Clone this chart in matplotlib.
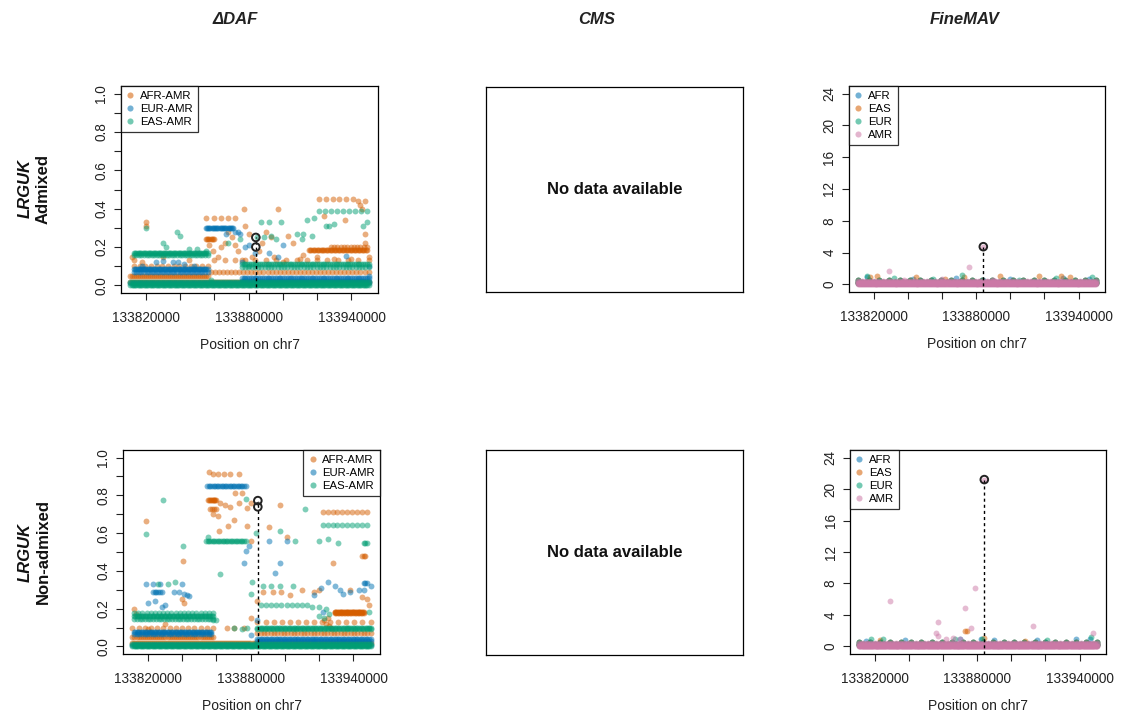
import numpy as np
import matplotlib
matplotlib.use('Agg')
import matplotlib.pyplot as plt
from matplotlib.lines import Line2D

plt.rcParams['font.family'] = ['Liberation Sans', 'DejaVu Sans']

# ---- data (positions in kb on chr7) ----
# runs of SNPs sharing a value: (start_kb, end_kb, value, n_snps)
top_snp_kb = 133884.2

# delta DAF, admixed
adm_afr_runs = [(133811, 133950, 0.02, 120), (133811, 133856, 0.05, 40), (133813, 133856, 0.10, 14),
                (133855, 133860, 0.24, 8), (133915, 133949, 0.185, 45), (133928, 133949, 0.20, 12),
                (133858, 133950, 0.07, 40), (133860, 133950, 0.13, 16)]
adm_afr_x = [133812, 133813, 133820, 133820, 133818, 133830, 133845, 133855, 133860, 133864, 133868, 133872,
             133857, 133859, 133862, 133864, 133866, 133868, 133870, 133872, 133874, 133877, 133878, 133880,
             133876, 133882, 133886, 133888, 133890, 133893, 133897, 133895, 133900, 133903, 133906, 133910,
             133912, 133921, 133925, 133929, 133933, 133937, 133941, 133944, 133948, 133945, 133946, 133924,
             133936, 133948, 133948, 133920, 133930, 133940, 133950]
adm_afr_y = [0.15, 0.13, 0.33, 0.31, 0.12, 0.15, 0.13, 0.35, 0.35, 0.35, 0.35, 0.35,
             0.21, 0.18, 0.15, 0.20, 0.22, 0.28, 0.25, 0.21, 0.18, 0.40, 0.31, 0.27,
             0.13, 0.15, 0.18, 0.22, 0.28, 0.25, 0.40, 0.15, 0.12, 0.26, 0.22, 0.14,
             0.16, 0.45, 0.45, 0.45, 0.45, 0.45, 0.45, 0.44, 0.44, 0.42, 0.40, 0.36,
             0.34, 0.27, 0.22, 0.15, 0.14, 0.14, 0.15]

adm_eur_runs = [(133811, 133950, 0.01, 100), (133813, 133856, 0.083, 60), (133813, 133856, 0.07, 30),
                (133855, 133871, 0.30, 25), (133876, 133950, 0.04, 70), (133876, 133950, 0.025, 50)]
adm_eur_x = [133826, 133830, 133836, 133839, 133842, 133818, 133848, 133872, 133874, 133875, 133878, 133880,
             133876, 133884, 133892, 133897, 133900, 133937, 133950, 133950, 133867]
adm_eur_y = [0.12, 0.125, 0.12, 0.12, 0.11, 0.10, 0.10, 0.28, 0.28, 0.27, 0.20, 0.21,
             0.12, 0.17, 0.17, 0.15, 0.21, 0.155, 0.10, 0.05, 0.27]

adm_eas_runs = [(133811, 133950, 0.0, 200), (133811, 133950, 0.015, 120), (133813, 133856, 0.17, 60),
                (133813, 133856, 0.16, 30), (133876, 133950, 0.11, 70), (133876, 133950, 0.095, 40),
                (133921, 133949, 0.39, 9)]
adm_eas_x = [133820, 133838, 133840, 133830, 133832, 133845, 133850, 133855, 133868, 133875, 133887, 133892,
             133899, 133885, 133889, 133893, 133896, 133908, 133912, 133917, 133914, 133918, 133925, 133927,
             133930, 133947, 133949, 133911, 133880, 133858]
adm_eas_y = [0.30, 0.28, 0.26, 0.22, 0.20, 0.19, 0.19, 0.18, 0.22, 0.24, 0.33, 0.33,
             0.33, 0.25, 0.25, 0.26, 0.24, 0.27, 0.27, 0.26, 0.34, 0.35, 0.31, 0.31,
             0.32, 0.31, 0.33, 0.24, 0.10, 0.03]
adm_top_y = [0.25, 0.20]

# delta DAF, non-admixed
na_afr_runs = [(133811, 133950, 0.02, 120), (133811, 133858, 0.05, 40), (133811, 133858, 0.10, 14),
               (133855, 133860, 0.775, 10), (133856, 133860, 0.73, 4), (133929, 133946, 0.185, 35),
               (133929, 133946, 0.175, 20), (133922, 133948, 0.71, 10), (133884, 133950, 0.07, 35),
               (133884, 133950, 0.13, 15), (133945, 133947, 0.48, 3)]
na_afr_x = [133812, 133813, 133819, 133840.6, 133840, 133841, 133830, 133820, 133855.7, 133858, 133861,
            133864.5, 133868, 133873, 133858, 133861, 133862, 133865, 133868, 133871, 133875, 133873,
            133861.6, 133866.5, 133870, 133878, 133880, 133878, 133880, 133897, 133891, 133901, 133928,
            133924, 133925, 133926, 133927, 133923, 133948, 133949, 133887, 133893, 133898, 133903, 133910,
            133917, 133920, 133884, 133880, 133876, 133870, 133866, 133938, 133945]
na_afr_y = [0.20, 0.17, 0.663, 0.45, 0.25, 0.23, 0.12, 0.09, 0.922, 0.915, 0.915,
            0.915, 0.915, 0.915, 0.70, 0.69, 0.76, 0.75, 0.74, 0.81, 0.81, 0.76,
            0.61, 0.64, 0.67, 0.64, 0.557, 0.735, 0.76, 0.751, 0.634, 0.58, 0.44,
            0.12, 0.15, 0.11, 0.10, 0.14, 0.25, 0.22, 0.29, 0.29, 0.29, 0.27, 0.30,
            0.29, 0.30, 0.24, 0.15, 0.10, 0.10, 0.10, 0.30, 0.26]

na_eur_runs = [(133811, 133950, 0.01, 100), (133812, 133857, 0.075, 60), (133812, 133857, 0.065, 30),
               (133854.6, 133877, 0.852, 25), (133884, 133950, 0.04, 70), (133884, 133950, 0.03, 40),
               (133823, 133828, 0.29, 6), (133946, 133948, 0.335, 3)]
na_eur_x = [133819, 133823, 133827, 133840, 133820, 133824, 133828, 133830, 133835, 133838, 133841, 133843,
            133844, 133877, 133876, 133879, 133890.7, 133901, 133897, 133894, 133917, 133921, 133925, 133929,
            133932, 133934, 133938, 133943, 133946, 133950, 133884, 133880, 133922]
na_eur_y = [0.33, 0.33, 0.33, 0.33, 0.23, 0.24, 0.21, 0.22, 0.29, 0.29, 0.28, 0.27,
            0.265, 0.507, 0.44, 0.53, 0.557, 0.557, 0.44, 0.39, 0.27, 0.31, 0.34, 0.32,
            0.30, 0.28, 0.29, 0.30, 0.30, 0.32, 0.14, 0.06, 0.18]

na_eas_runs = [(133811, 133950, 0.0, 200), (133811, 133950, 0.015, 120), (133812, 133858, 0.16, 60),
               (133812, 133858, 0.145, 30), (133812, 133858, 0.175, 20), (133854, 133877, 0.56, 25),
               (133922, 133948, 0.645, 10), (133884, 133950, 0.10, 70), (133884, 133950, 0.09, 30),
               (133886, 133913, 0.22, 10), (133946, 133948, 0.55, 3)]
na_eas_x = [133829, 133819, 133840.6, 133826, 133832, 133836, 133855, 133862, 133877, 133883, 133881, 133880,
            133897, 133906, 133912, 133920, 133925, 133931, 133887, 133892, 133897, 133905, 133916, 133920,
            133924, 133920, 133923, 133926, 133858, 133860, 133870, 133875, 133878, 133949, 133949, 133936]
na_eas_y = [0.774, 0.593, 0.53, 0.33, 0.33, 0.34, 0.58, 0.386, 0.778, 0.60, 0.34, 0.28,
            0.61, 0.56, 0.73, 0.56, 0.57, 0.55, 0.32, 0.32, 0.32, 0.32, 0.21, 0.21,
            0.20, 0.16, 0.15, 0.17, 0.14, 0.14, 0.10, 0.09, 0.10, 0.18, 0.10, 0.10]
na_top_y = [0.772, 0.739]

# FineMAV
fm_base_runs = [(133811, 133950, 0.15, 110), (133811, 133950, 0.35, 60), (133811, 133950, 0.55, 24)]
fm_amr_runs = [(133811, 133950, 0.0, 250), (133811, 133950, 0.12, 220), (133811, 133950, 0.25, 160),
               (133811, 133950, 0.38, 60)]

fm_adm_afr_x = [133816, 133843, 133868, 133884, 133900, 133931, 133946]
fm_adm_afr_y = [0.9, 0.7, 0.8, 0.6, 0.7, 0.8, 0.7]
fm_adm_eas_x = [133818, 133822, 133845, 133862, 133873, 133894, 133917, 133930, 133935]
fm_adm_eas_y = [0.9, 1.0, 0.9, 0.7, 0.9, 1.1, 1.0, 1.0, 0.9]
fm_adm_eur_x = [133816, 133832, 133855, 133872, 133905, 133927, 133948]
fm_adm_eur_y = [1.1, 0.8, 0.7, 1.2, 0.6, 0.8, 0.9]
fm_adm_amr_x = [133828.7, 133876, 133884.2, 133838, 133860, 133890]
fm_adm_amr_y = [1.7, 2.2, 4.74, 0.6, 0.7, 0.6]
fm_adm_top = 4.74

fm_na_afr_x = [133815, 133838, 133870, 133882, 133890, 133915, 133938, 133946]
fm_na_afr_y = [0.7, 0.8, 0.9, 0.9, 0.8, 0.8, 0.9, 1.0]
fm_na_eas_x = [133874, 133884.2, 133873, 133823, 133908]
fm_na_eas_y = [2.0, 1.1, 1.9, 0.8, 0.7]
fm_na_eur_x = [133818, 133825, 133867, 133883, 133947, 133921]
fm_na_eur_y = [1.0, 0.9, 1.0, 0.9, 1.2, 0.8]
fm_na_amr_x = [133828.7, 133879, 133873, 133857, 133876.6, 133912.5, 133947.7, 133855.7, 133857, 133862,
               133866, 133870, 133884.2]
fm_na_amr_y = [5.8, 7.4, 4.86, 3.1, 2.37, 2.6, 1.75, 1.7, 1.3, 1.0, 1.1, 0.9, 21.2]
fm_na_top = 21.2

daf_labels = ['AFR-AMR', 'EUR-AMR', 'EAS-AMR']
daf_colors = ['#D55E00', '#0072B2', '#009E73']
fm_labels = ['AFR', 'EAS', 'EUR', 'AMR']
fm_colors = ['#0072B2', '#D55E00', '#009E73', '#CC79A7']
col_titles = ['ΔDAF', 'CMS', 'FineMAV']
row_names = ['Admixed', 'Non-admixed']
gene = 'LRGUK'

x_ticks = np.arange(133820000, 133940001, 20000)
x_labeled = [133820000, 133880000, 133940000]


def expand(runs, px, py):
    xs, ys = [], []
    for x0, x1, v, n in runs:
        xs += list(np.linspace(x0, x1, n))
        ys += [v] * n
    xs += list(px)
    ys += list(py)
    return np.array(xs) * 1000, np.array(ys)


W, H = 1123, 718
fig = plt.figure(figsize=(W / 100, H / 100), dpi=100)


def add_ax(l, t, r, b):
    return fig.add_axes([l / W, 1 - b / H, (r - l) / W, (b - t) / H])


def style_axes(ax):
    for s in ax.spines.values():
        s.set_linewidth(0.9)
    ax.tick_params(direction='out', length=5, width=0.8, labelsize=9.8, colors='#222222')
    ax.tick_params(axis='x', pad=8)
    ax.tick_params(axis='y', pad=4)
    ax.set_xlim(133805500, 133955500)
    ax.set_xticks(x_ticks)
    ax.set_xticklabels([str(t) if t in x_labeled else '' for t in x_ticks])
    ax.set_xlabel('Position on chr7', fontsize=10, labelpad=9, color='#222222')


def rot_yticks(ax):
    for lab in ax.get_yticklabels():
        lab.set_rotation(90)
        lab.set_va('center')


def legend(ax, labels, colors, loc):
    handles = [Line2D([], [], ls='none', marker='o', ms=4.4, mew=0, color=c, alpha=0.55) for c in colors]
    lg = ax.legend(handles, labels, loc=loc, fontsize=8.2, frameon=True, fancybox=False,
                   borderaxespad=0, handlelength=0.7, handletextpad=0.5, labelspacing=0.25,
                   borderpad=0.45)
    lg.get_frame().set_edgecolor('black')
    lg.get_frame().set_linewidth(0.9)


def daf_panel(ax, series, tops, loc):
    for (runs, px, py), c in zip(series, daf_colors):
        x, y = expand(runs, px, py)
        ax.scatter(x, y, s=18, color=c, alpha=0.5, linewidths=0, zorder=2)
    ax.set_ylim(-0.04, 1.04)
    ax.plot([top_snp_kb * 1000] * 2, [-0.04, max(tops)], ls=(0, (2.2, 2.2)), color='black', lw=1, zorder=3)
    ax.scatter([top_snp_kb * 1000] * len(tops), tops, s=30, facecolors='none', edgecolors='#222222',
               linewidths=1.4, zorder=4)
    yt = np.round(np.arange(0, 1.01, 0.1), 1)
    ax.set_yticks(yt)
    ax.set_yticklabels(['%.1f' % v if i % 2 == 0 else '' for i, v in enumerate(yt)])
    style_axes(ax)
    rot_yticks(ax)
    legend(ax, daf_labels, daf_colors, loc)


def fm_panel(ax, series, top):
    for i, ((px, py), c) in enumerate(zip(series, fm_colors)):
        runs = fm_amr_runs if i == 3 else fm_base_runs
        x, y = expand(runs, px, py)
        ax.scatter(x, y, s=18, color=c, alpha=0.5, linewidths=0, zorder=2)
    ax.set_ylim(-0.96, 24.96)
    ax.plot([top_snp_kb * 1000] * 2, [-0.96, top], ls=(0, (2.2, 2.2)), color='black', lw=1, zorder=3)
    ax.scatter([top_snp_kb * 1000], [top], s=30, facecolors='none', edgecolors='#222222',
               linewidths=1.4, zorder=4)
    ax.set_yticks(np.arange(0, 25, 4))
    style_axes(ax)
    rot_yticks(ax)
    legend(ax, fm_labels, fm_colors, 'upper left')


def empty_panel(ax):
    ax.set_xticks([])
    ax.set_yticks([])
    for s in ax.spines.values():
        s.set_linewidth(0.9)
    ax.text(0.5, 0.5, 'No data available', ha='center', va='center', fontsize=12,
            fontweight='bold', transform=ax.transAxes, color='#111111')


# top row: admixed
ax = add_ax(121, 86, 378, 293)
daf_panel(ax, [(adm_afr_runs, adm_afr_x, adm_afr_y), (adm_eur_runs, adm_eur_x, adm_eur_y),
               (adm_eas_runs, adm_eas_x, adm_eas_y)], adm_top_y, 'upper left')
empty_panel(add_ax(486, 87, 743, 292))
ax = add_ax(849, 86, 1105, 292)
fm_panel(ax, [(fm_adm_afr_x, fm_adm_afr_y), (fm_adm_eas_x, fm_adm_eas_y),
              (fm_adm_eur_x, fm_adm_eur_y), (fm_adm_amr_x, fm_adm_amr_y)], fm_adm_top)

# bottom row: non-admixed
ax = add_ax(123, 450, 380, 654)
daf_panel(ax, [(na_afr_runs, na_afr_x, na_afr_y), (na_eur_runs, na_eur_x, na_eur_y),
               (na_eas_runs, na_eas_x, na_eas_y)], na_top_y, 'upper right')
empty_panel(add_ax(486, 450, 743, 655))
ax = add_ax(850, 450, 1106, 654)
fm_panel(ax, [(fm_na_afr_x, fm_na_afr_y), (fm_na_eas_x, fm_na_eas_y),
              (fm_na_eur_x, fm_na_eur_y), (fm_na_amr_x, fm_na_amr_y)], fm_na_top)

# column titles and row labels
for xc, t in zip([235, 597, 965], col_titles):
    fig.text(xc / W, 1 - 20 / H, t, ha='center', va='center', fontsize=12,
             fontweight='bold', style='italic', color='#222222')
for yc, name in zip([189, 552], row_names):
    fig.text(25 / W, 1 - yc / H, gene, ha='center', va='center', rotation=90, fontsize=12,
             fontweight='bold', style='italic', color='#111111')
    fig.text(43 / W, 1 - yc / H, name, ha='center', va='center', rotation=90, fontsize=12,
             fontweight='bold', color='#111111')

fig.savefig('out.png', dpi=100)
